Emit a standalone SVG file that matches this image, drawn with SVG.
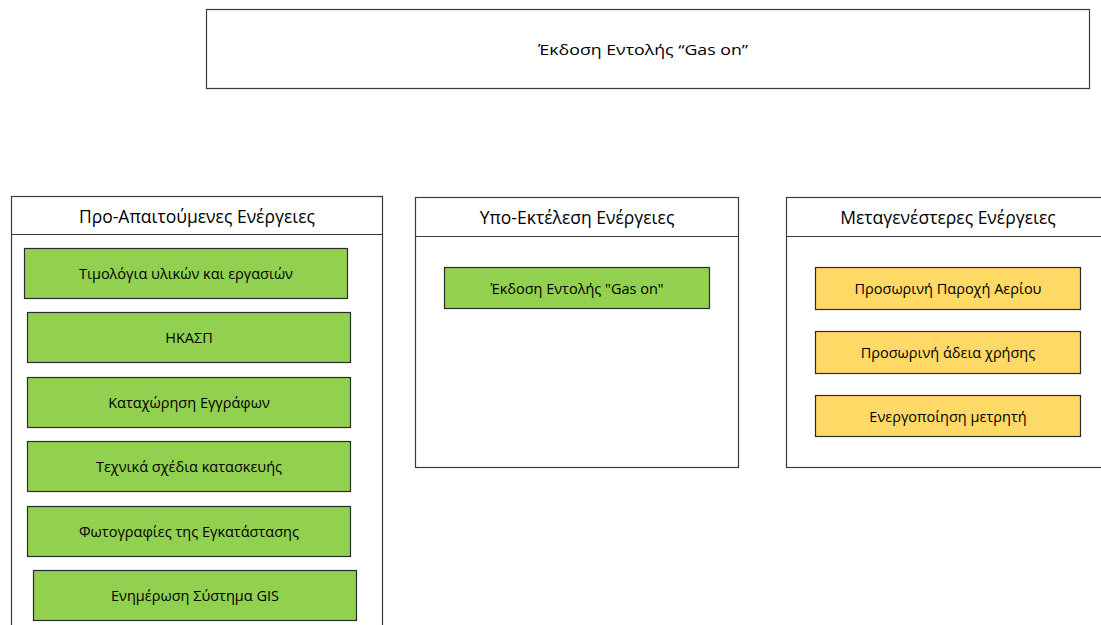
<svg xmlns="http://www.w3.org/2000/svg" width="1101" height="625" viewBox="0 0 1101 625">
  <style>
    text { font-family: "Open Sans", "Noto Sans", "DejaVu Sans", sans-serif; fill: #000; text-anchor: middle; dominant-baseline: central; }
    .frame { fill: #fff; stroke: #3a3a3a; stroke-width: 1.2; }
    .head { font-size: 17.5px; }
    .item { font-size: 14.5px; }
    .green { fill: #92d050; stroke: #2b2b2b; stroke-width: 1.2; }
    .yellow { fill: #ffd966; stroke: #2b2b2b; stroke-width: 1.2; }
  </style>
  <rect width="1101" height="625" fill="#fff"/>

  <!-- command banner -->
  <g id="banner">
    <rect class="frame" x="206.5" y="9.5" width="883" height="79"/>
    <text x="643" y="49" style="font-size:15px;" textLength="210" lengthAdjust="spacingAndGlyphs">Έκδοση Εντολής “Gas on”</text>
  </g>

  <!-- prerequisite actions -->
  <g id="prerequisites">
    <rect class="frame" x="11.5" y="196.5" width="371" height="440"/>
    <line class="frame" x1="11.5" y1="234.5" x2="382.5" y2="234.5"/>
    <text class="head" x="197" y="216">Προ-Απαιτούμενες Ενέργειες</text>
  </g>
  <g id="invoices">
    <rect class="green" x="24.5" y="248.5" width="323" height="50"/>
    <text class="item" x="186" y="273.5">Τιμολόγια υλικών και εργασιών</text>
  </g>
  <g id="hkasp">
    <rect class="green" x="27.5" y="312.5" width="323" height="50"/>
    <text class="item" x="189" y="337.5">ΗΚΑΣΠ</text>
  </g>
  <g id="documents">
    <rect class="green" x="27.5" y="377.5" width="323" height="50"/>
    <text class="item" x="189" y="402.5">Καταχώρηση Εγγράφων</text>
  </g>
  <g id="drawings">
    <rect class="green" x="27.5" y="441.5" width="323" height="50"/>
    <text class="item" x="189" y="466.5">Τεχνικά σχέδια κατασκευής</text>
  </g>
  <g id="photos">
    <rect class="green" x="27.5" y="506.5" width="323" height="50"/>
    <text class="item" x="189" y="531.5">Φωτογραφίες της Εγκατάστασης</text>
  </g>
  <g id="gis">
    <rect class="green" x="33.5" y="570.5" width="323" height="50"/>
    <text class="item" x="195" y="595.5">Ενημέρωση Σύστημα GIS</text>
  </g>

  <!-- actions in progress -->
  <g id="in-progress">
    <rect class="frame" x="415.5" y="197.5" width="323" height="270"/>
    <line class="frame" x1="415.5" y1="236.5" x2="738.5" y2="236.5"/>
    <text class="head" x="577" y="217">Υπο-Εκτέλεση Ενέργειες</text>
  </g>
  <g id="gas-on">
    <rect class="green" x="444.5" y="267.5" width="265" height="41"/>
    <text class="item" x="577" y="288">Έκδοση Εντολής "Gas on"</text>
  </g>

  <!-- follow-up actions -->
  <g id="follow-up">
    <rect class="frame" x="786.5" y="197.5" width="330" height="270"/>
    <line class="frame" x1="786.5" y1="236.5" x2="1101" y2="236.5"/>
    <text class="head" x="948" y="217">Μεταγενέστερες Ενέργειες</text>
  </g>
  <g id="temp-supply">
    <rect class="yellow" x="815.5" y="267.5" width="265" height="42"/>
    <text class="item" x="948" y="288.5">Προσωρινή Παροχή Αερίου</text>
  </g>
  <g id="temp-permit">
    <rect class="yellow" x="815.5" y="331.5" width="265" height="42"/>
    <text class="item" x="948" y="352.5">Προσωρινή άδεια χρήσης</text>
  </g>
  <g id="meter">
    <rect class="yellow" x="815.5" y="395.5" width="265" height="41"/>
    <text class="item" x="948" y="416">Ενεργοποίηση μετρητή</text>
  </g>

  <g id="connectors"/>
</svg>
